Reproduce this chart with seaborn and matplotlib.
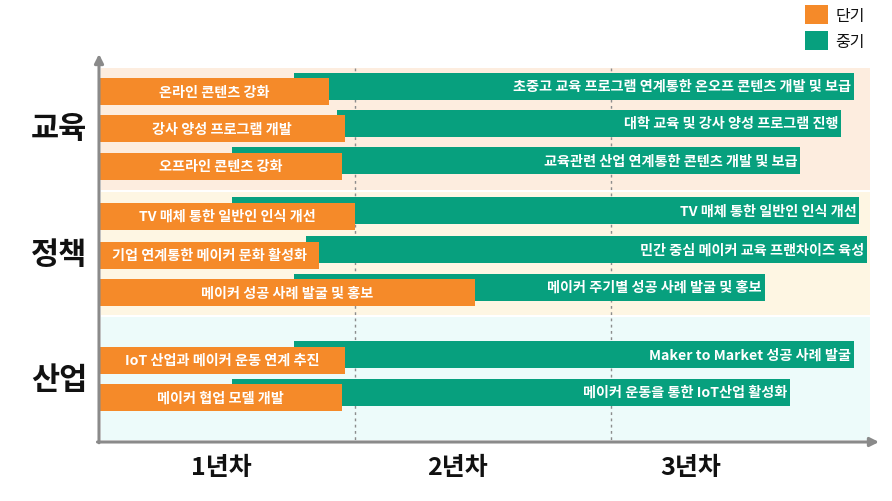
import matplotlib
matplotlib.use("Agg")
import matplotlib.pyplot as plt
from matplotlib.patches import Patch
import seaborn as sns
import pandas as pd

# ---------------- data ----------------
groups = ["교육", "정책", "산업"]
group_of_row = ["교육", "교육", "교육", "정책", "정책", "정책", "산업", "산업"]
short_labels = [
    "온라인 콘텐츠 강화",
    "강사 양성 프로그램 개발",
    "오프라인 콘텐츠 강화",
    "TV 매체 통한 일반인 인식 개선",
    "기업 연계통한 메이커 문화 활성화",
    "메이커 성공 사례 발굴 및 홍보",
    "IoT 산업과 메이커 운동 연계 추진",
    "메이커 협업 모델 개발",
]
mid_labels = [
    "초중고 교육 프로그램 연계통한 온오프 콘텐츠 개발 및 보급",
    "대학 교육 및 강사 양성 프로그램 진행",
    "교육관련 산업 연계통한 콘텐츠 개발 및 보급",
    "TV 매체 통한 일반인 인식 개선",
    "민간 중심 메이커 교육 프랜차이즈 육성",
    "메이커 주기별 성공 사례 발굴 및 홍보",
    "Maker to Market 성공 사례 발굴",
    "메이커 운동을 통한 IoT산업 활성화",
]
short_end = [0.90, 0.96, 0.95, 1.00, 0.86, 1.47, 0.96, 0.95]   # years
mid_start = [0.76, 0.93, 0.52, 0.52, 0.81, 0.76, 0.76, 0.52]   # years
mid_end = [2.95, 2.90, 2.74, 2.97, 3.00, 2.60, 2.95, 2.70]     # years
year_labels = ["1년차", "2년차", "3년차"]
legend_labels = ["단기", "중기"]

df = pd.DataFrame({
    "group": group_of_row,
    "short": short_labels,
    "mid": mid_labels,
    "short_end": short_end,
    "mid_start": mid_start,
    "mid_end": mid_end,
})

# ---------------- layout / style ----------------
ORANGE = "#F58A29"
GREEN = "#07A07E"
BAND_COLORS = {"교육": "#FDEDDF", "정책": "#FEF6E3", "산업": "#EDFBFA"}
AXIS_GRAY = "#8A8A8A"

row_y = [92.5, 129.5, 167, 217, 256, 293.5, 361, 398.5]   # vertical slots (layout)
green_shift = -5.5
bar_h = 27
band_span = {"교육": (69, 191), "정책": (193, 316), "산업": (318, 441)}
group_label_y = {"교육": 129, "정책": 255, "산업": 380}
year_label_x = [0.477, 1.40, 2.31]

sns.set_theme(style="white")
plt.rcParams["font.family"] = ["Noto Sans CJK KR", "DejaVu Sans"]

W, H = 892, 502
fig = plt.figure(figsize=(W / 100, H / 100), dpi=100)
ax_left, ax_right, ax_top, ax_bottom = 99, 870, 66, 443
ax = fig.add_axes([ax_left / W, 1 - ax_bottom / H,
                   (ax_right - ax_left) / W, (ax_bottom - ax_top) / H])
px_per_year = 256
ax.set_xlim(0, (ax_right - ax_left) / px_per_year)
ax.set_ylim(ax_bottom, ax_top)
ax.set_facecolor("white")
for s in ax.spines.values():
    s.set_visible(False)
ax.set_xticks([])
ax.set_yticks([])

# background bands
for g in groups:
    y0, y1 = band_span[g]
    ax.axhspan(y0, y1, xmin=0.002, xmax=1, color=BAND_COLORS[g], lw=0, zorder=0)

# year separators
for xv in [1, 2]:
    ax.plot([xv, xv], [69, 442], color="#8C8C8C", lw=1.0,
            linestyle=(0, (2, 2.5)), zorder=1)

ys = pd.Series(row_y)
# mid-term (green) bars
ax.barh(ys + green_shift, df["mid_end"] - df["mid_start"], left=df["mid_start"],
        height=bar_h, color=GREEN, lw=0, zorder=2)
# short-term (orange) bars
ax.barh(ys, df["short_end"], left=0, height=bar_h, color=ORANGE, lw=0, zorder=3)

pad = 3 / px_per_year
for i, r in df.iterrows():
    ax.text(r["short_end"] / 2, row_y[i], r["short"], color="white",
            ha="center", va="center", fontsize=10.2, fontweight="bold", zorder=5)
    ax.text(r["mid_end"] - pad, row_y[i] + green_shift, r["mid"], color="white",
            ha="right", va="center", fontsize=10.2, fontweight="bold", zorder=4)

# group labels
for g in groups:
    ax.text(-40 / px_per_year, group_label_y[g], g, ha="center", va="center",
            fontsize=22, fontweight="bold", color="#111111", clip_on=False)

# year labels
for xv, lab in zip(year_label_x, year_labels):
    ax.text(xv, 468, lab, ha="center", va="center", fontsize=18,
            fontweight="bold", color="#111111", clip_on=False)

# axes arrows
ax.annotate("", xy=(0, 1 + 11 / (ax_bottom - ax_top)), xytext=(0, -0.002),
            xycoords="axes fraction",
            arrowprops=dict(arrowstyle="-|>", color=AXIS_GRAY, lw=2.2,
                            mutation_scale=13, shrinkA=0, shrinkB=0))
ax.annotate("", xy=(1 + 9 / (ax_right - ax_left), 0), xytext=(-0.002, 0),
            xycoords="axes fraction",
            arrowprops=dict(arrowstyle="-|>", color=AXIS_GRAY, lw=2.2,
                            mutation_scale=13, shrinkA=0, shrinkB=0))

# legend
handles = [Patch(facecolor=ORANGE, edgecolor="none"),
           Patch(facecolor=GREEN, edgecolor="none")]
leg = fig.legend(handles, legend_labels, loc="upper left",
                 bbox_to_anchor=(805 / W, 1 - 6 / H), bbox_transform=fig.transFigure,
                 frameon=False, fontsize=11.5, handlelength=1.45, handleheight=1.45,
                 handletextpad=0.45, labelspacing=0.45, borderpad=0, borderaxespad=0)
for t in leg.get_texts():
    t.set_color("#111111")

fig.savefig("out.png", dpi=100)
